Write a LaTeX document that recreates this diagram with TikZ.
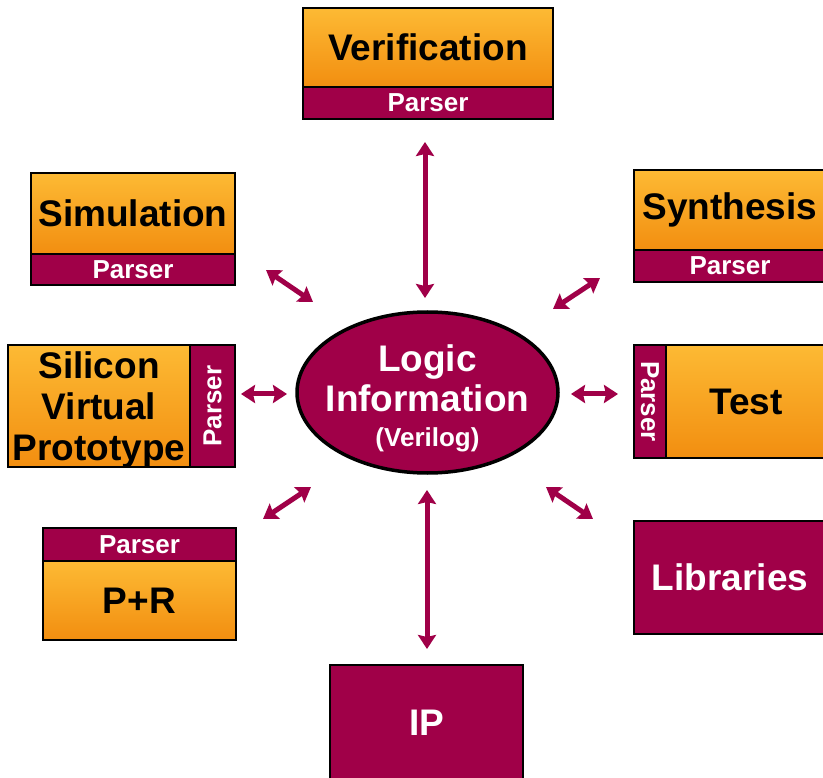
\documentclass[tikz,border=0pt]{standalone}
\usepackage{fontspec}
\setmainfont{Liberation Sans}
\usetikzlibrary{arrows.meta,shapes.geometric}
\definecolor{maroon}{RGB}{160,0,72}
\definecolor{ortop}{RGB}{253,186,52}
\definecolor{orbot}{RGB}{242,142,16}
\newcommand{\bigf}{\fontsize{37}{41}\selectfont\bfseries}
\newcommand{\parf}{\fontsize{26}{28}\selectfont\bfseries}
\tikzset{
  obox/.style={draw=black, line width=2.5pt, top color=ortop, bottom color=orbot,
    inner sep=0pt, font=\bigf, text=black, align=center},
  mbox/.style={draw=black, line width=2.5pt, fill=maroon, inner sep=0pt, text=white},
  pbox/.style={mbox, font=\parf},
  bigm/.style={mbox, font=\bigf},
  link/.style={draw=maroon, line width=5pt,
    {Stealth[length=14pt,width=18pt,inset=2pt]}-{Stealth[length=14pt,width=18pt,inset=2pt]}}
}
\begin{document}
\begin{tikzpicture}[x=1pt,y=-1pt]
\useasboundingbox (0,0) rectangle (823,778);
\clip (0,0) rectangle (823,778);
\fill[white] (0,0) rectangle (823,778);

% Verification
\node[obox, minimum width=250pt, minimum height=79pt] (ver) at (428,47.5) {Verification};
\node[pbox, minimum width=250pt, minimum height=32pt] (verp) at (428,103) {Parser};

% Simulation
\node[obox, minimum width=204pt, minimum height=81pt] (sim) at (133,213.5) {Simulation};
\node[pbox, minimum width=204pt, minimum height=31pt] (simp) at (133,269.5) {Parser};

% Synthesis
\node[obox, minimum width=192pt, minimum height=80pt] (syn) at (730,210) {Synthesis};
\node[pbox, minimum width=192pt, minimum height=32pt] (synp) at (730,266) {Parser};

% Silicon Virtual Prototype
\node[obox, text depth=0pt, minimum width=182pt, minimum height=122pt] (svp) at (99,406) {Silicon\\Virtual\\Prototype};
\node[pbox, rotate=90, minimum width=122pt, minimum height=45pt] (svpp) at (212.5,406) {Parser};

% Test
\node[pbox, rotate=-90, minimum width=113pt, minimum height=32pt] (testp) at (650,401.5) {Parser};
\node[obox, minimum width=160pt, minimum height=113pt] (test) at (746,401.5) {Test};

% P+R
\node[pbox, minimum width=193pt, minimum height=33pt] (prp) at (139.5,544.5) {Parser};
\node[obox, minimum width=193pt, minimum height=79pt] (pr) at (139.5,600.5) {P+R};

% Libraries
\node[bigm, minimum width=192pt, minimum height=113pt] (lib) at (730,577.5) {Libraries};

% IP
\node[bigm, minimum width=193pt, minimum height=115pt] (ip) at (426.5,722.5) {IP};

% Centre ellipse
\node[ellipse, draw=black, line width=3.5pt, fill=maroon, minimum width=261pt,
  minimum height=161pt, inner sep=0pt] (logic) at (427.5,392.5) {};
\node[text=white, font=\bigf, align=center, inner sep=0pt] (logictxt) at (427.5,398.5)
  {Logic\\[-1pt]Information\\[-6pt]{\parf (Verilog)}};

% connector end points
\coordinate (a1) at (425,142);  \coordinate (b1) at (425,298);
\coordinate (a2) at (427,490);  \coordinate (b2) at (427,649);
\coordinate (a3) at (241,394);  \coordinate (b3) at (287,394);
\coordinate (a4) at (571,394);  \coordinate (b4) at (618,394);
\coordinate (a5) at (266,270);  \coordinate (b5) at (313,302);
\coordinate (a6) at (553,309);  \coordinate (b6) at (600,278);
\coordinate (a7) at (263,519);  \coordinate (b7) at (311,487);
\coordinate (a8) at (546,487);  \coordinate (b8) at (593,519);

\draw[link] (a1) -- (b1);
\draw[link] (a2) -- (b2);
\draw[link] (a3) -- (b3);
\draw[link] (a4) -- (b4);
\draw[link] (a5) -- (b5);
\draw[link] (a6) -- (b6);
\draw[link] (a7) -- (b7);
\draw[link] (a8) -- (b8);
\end{tikzpicture}
\end{document}
